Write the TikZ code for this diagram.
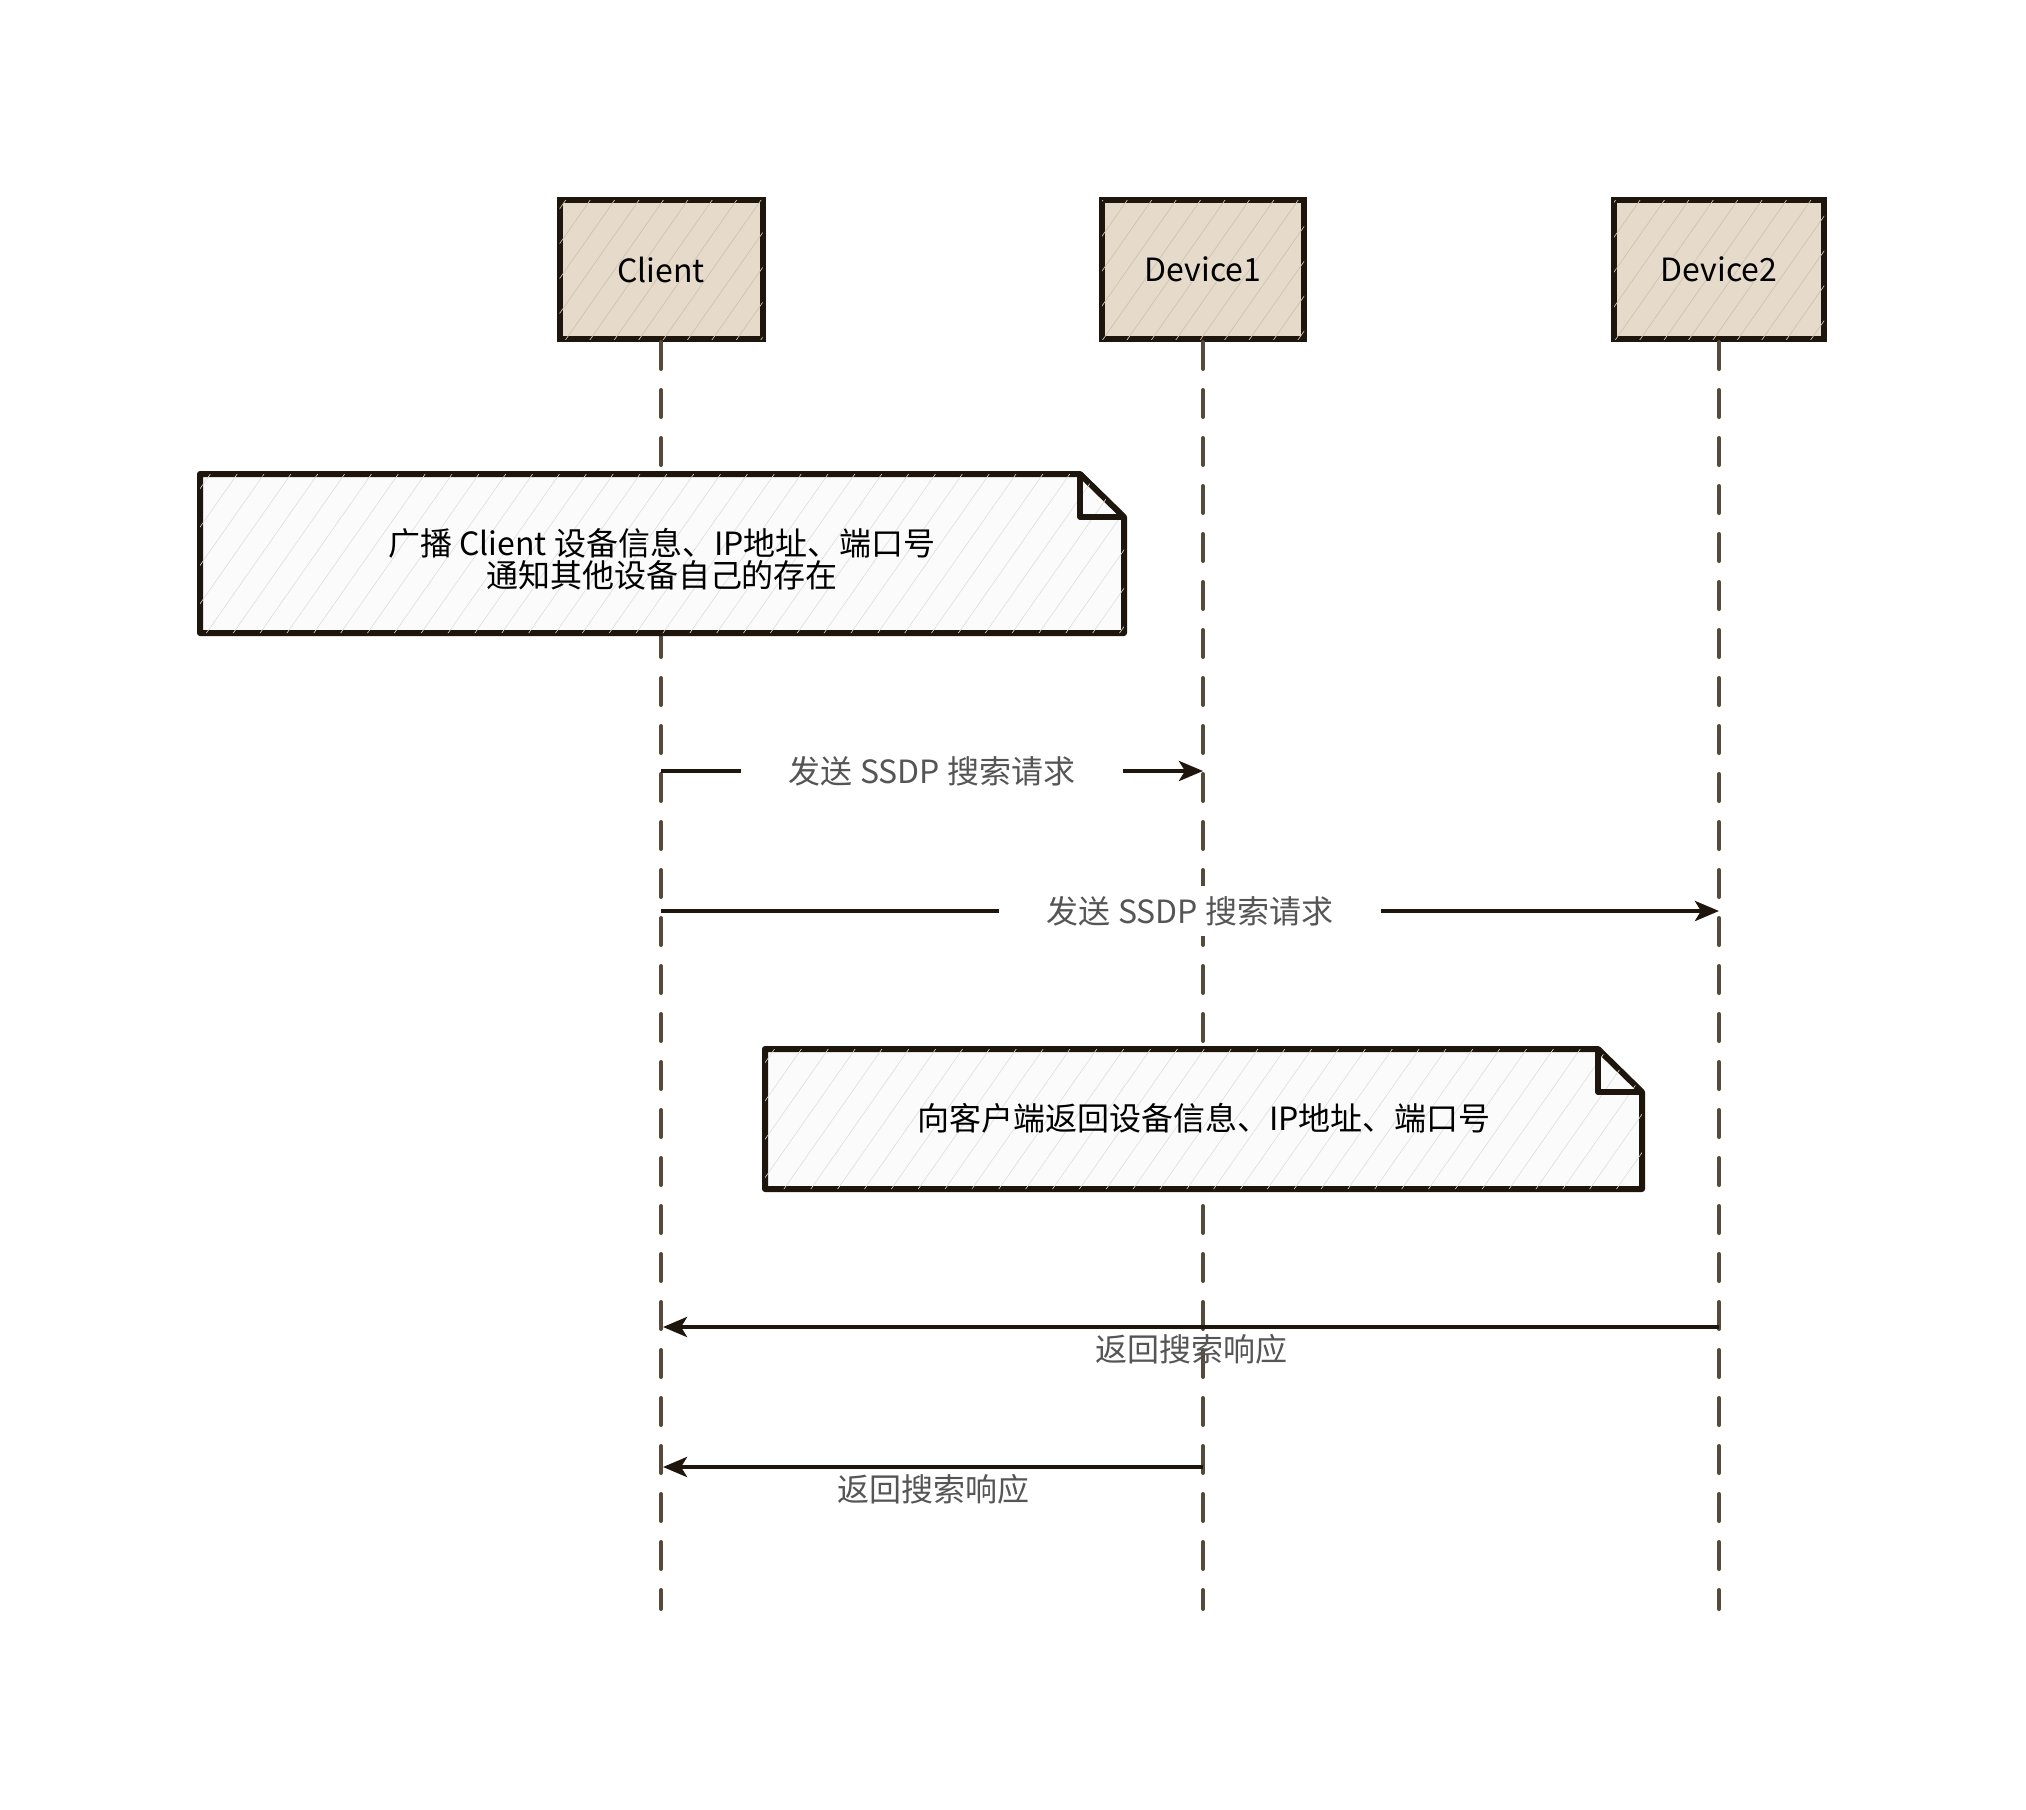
\documentclass[tikz,border=0pt]{standalone}
\usepackage{fontspec}
\setmainfont{Noto Sans CJK SC}
\usetikzlibrary{arrows.meta,patterns.meta}

\definecolor{ink}{HTML}{1E150C}
\definecolor{lifecol}{HTML}{584A3A}
\definecolor{boxfill}{HTML}{E6DBCB}
\definecolor{boxhatch}{HTML}{CFC2AF}
\definecolor{notefill}{HTML}{FBFBFB}
\definecolor{notehatch}{HTML}{DDDDDD}
\definecolor{msgtext}{HTML}{555555}

\tikzset{
  txt/.style={font=\fontsize{16pt}{16pt}\selectfont},
  actor/.style={txt, draw=ink, line width=3pt, fill=boxfill,
    postaction={pattern={Lines[angle=55,distance=10pt,line width=0.35pt]}, pattern color=boxhatch},
    minimum height=69.5pt, inner sep=0pt, text=black},
  lifeline/.style={draw=lifecol, line width=2pt, dash pattern=on 13.5pt off 10.5pt, line cap=round},
  notebox/.style={draw=ink, line width=3pt, line join=round, fill=notefill,
    postaction={pattern={Lines[angle=55,distance=11pt,line width=0.3pt]}, pattern color=notehatch}},
  foldline/.style={draw=ink, line width=2.8pt, line join=round},
  notetext/.style={txt, align=center, text=black},
  msg/.style={draw=ink, line width=2.1pt, -{Stealth[length=12pt,width=10pt,inset=3pt]}},
  msglabel/.style={txt, text=msgtext, fill=white, inner xsep=24pt, inner ysep=5pt},
  retlabel/.style={txt, text=msgtext, inner sep=0pt}
}

\begin{document}
\begin{tikzpicture}[x=0.5pt,y=-0.5pt]
\useasboundingbox (0,0) rectangle (2026,1810);

% participants
\node[actor, minimum width=101.5pt] (client) at (661,269.5) {Client};
\node[actor, minimum width=101pt]   (dev1)   at (1203,269.5) {Device1};
\node[actor, minimum width=105pt]   (dev2)   at (1719,269.5) {Device2};

% lifeline ends
\coordinate (clientEnd) at (661,1609);
\coordinate (dev1End)   at (1203,1609);
\coordinate (dev2End)   at (1719,1609);

\draw[lifeline] (client.south) -- (clientEnd);
\draw[lifeline] (dev1.south) -- (dev1End);
\draw[lifeline] (dev2.south) -- (dev2End);

% note: broadcast
\path[notebox] (200,474) -- (1080,474) -- (1124,517) -- (1124,633) -- (200,633) -- cycle;
\path[foldline] (1080,474) -- (1080,517) -- (1124,517);
\node[notetext] (note1) at (662,559) {广播 Client 设备信息、IP地址、端口号\\通知其他设备自己的存在};

% search requests
\coordinate (m1s) at (661,771);
\coordinate (m1e) at (1203,771);
\draw[msg] (m1s) -- node[msglabel] (m1l) {发送 SSDP 搜索请求} (m1e);

\coordinate (m2s) at (661,911);
\coordinate (m2e) at (1719,911);
\draw[msg] (m2s) -- node[msglabel] (m2l) {发送 SSDP 搜索请求} (m2e);

% note: device reply
\path[notebox] (765,1049) -- (1598,1049) -- (1642,1092) -- (1642,1189) -- (765,1189) -- cycle;
\path[foldline] (1598,1049) -- (1598,1092) -- (1642,1092);
\node[notetext] (note2) at (1204,1118) {向客户端返回设备信息、IP地址、端口号};

% search responses
\coordinate (r1s) at (1719,1327);
\coordinate (r1e) at (663,1327);
\draw[msg] (r1s) -- (r1e);
\node[retlabel] (r1l) at (1191,1349) {返回搜索响应};

\coordinate (r2s) at (1203,1467);
\coordinate (r2e) at (663,1467);
\draw[msg] (r2s) -- (r2e);
\node[retlabel] (r2l) at (933,1489) {返回搜索响应};
\end{tikzpicture}
\end{document}
